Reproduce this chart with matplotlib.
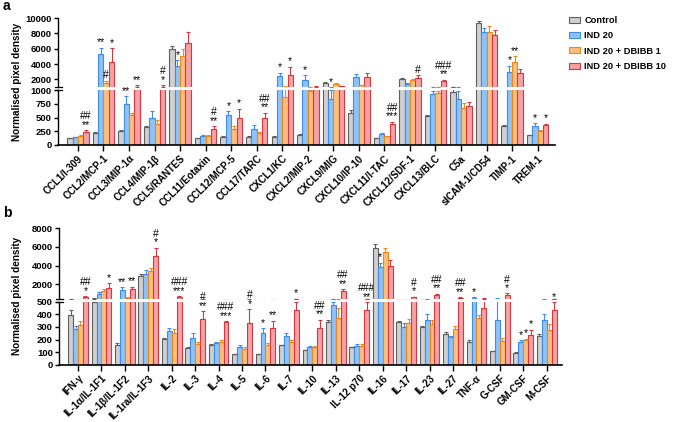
import matplotlib
matplotlib.use("Agg")
import matplotlib.pyplot as plt
import numpy as np
from matplotlib.patches import Patch

plt.rcParams['font.family'] = ['Liberation Sans', 'DejaVu Sans']
plt.rcParams['font.weight'] = 'bold'

series = ["Control", "IND 20", "IND 20 + DBIBB 1", "IND 20 + DBIBB 10"]
fills = ["#d0d0d0", "#8fc2f8", "#fcbf7e", "#f5a2a5"]
edges = ["#5f5f5f", "#3d8cee", "#ef861c", "#d7373f"]

# ---------- panel a ----------
cats_a = ["CCL1/I-309", "CCL2/MCP-1", "CCL3/MIP-1\u03b1", "CCL4/MIP-1\u03b2", "CCL5/RANTES",
          "CCL11/Eotaxin", "CCL12/MCP-5", "CCL17/TARC", "CXCL1/KC", "CXCL2/MIP-2",
          "CXCL9/MIG", "CXCL10/IP-10", "CXCL11/I-TAC", "CXCL12/SDF-1", "CXCL13/BLC",
          "C5a", "sICAM-1/CD54", "TIMP-1", "TREM-1"]
ctrl_a = [125, 225, 255, 330, 5900, 125, 150, 150, 145, 175, 1500, 580, 120, 2100, 530, 970, 9400, 350, 175]
ind_a = [140, 5350, 740, 490, 3700, 165, 540, 295, 2500, 1850, 840, 2300, 205, 1350, 925, 840, 8200, 3000, 350]
db1_a = [170, 1550, 545, 375, 5000, 170, 300, 210, 870, 975, 1350, 1250, 165, 1870, 940, 680, 8200, 4300, 255]
db10_a = [235, 4250, 1010, 1010, 6700, 295, 490, 490, 2550, 1050, 1100, 2300, 375, 2170, 1830, 710, 7800, 2800, 360]
ctrl_a_err = [8, 15, 10, 15, 500, 10, 10, 10, 10, 20, 100, 60, 5, 100, 15, 50, 200, 10, 10]
ind_a_err = [10, 800, 150, 120, 800, 10, 70, 70, 350, 700, 160, 400, 10, 200, 50, 150, 500, 800, 50]
db1_a_err = [15, 250, 30, 80, 900, 10, 50, 30, 230, 30, 200, 50, 5, 150, 50, 80, 800, 700, 20]
db10_a_err = [35, 1800, 250, 250, 1500, 50, 170, 100, 1100, 60, 60, 500, 50, 400, 100, 80, 600, 500, 30]
sig_a = [(0, 3, "##\n**"), (1, 1, "**"), (1, 2, "#"), (1, 3, "*"), (2, 1, "**"), (2, 3, "**"),
         (3, 3, "#\n*"), (4, 1, "*"), (5, 3, "#\n**"), (6, 1, "*"), (6, 3, "*"), (7, 3, "##\n**"),
         (8, 1, "*"), (8, 3, "*"), (9, 1, "*"), (10, 1, "*"), (12, 3, "##\n***"), (13, 3, "#"),
         (14, 3, "###\n**"), (17, 1, "*"), (17, 2, "**"), (18, 1, "*"), (18, 3, "*")]

# ---------- panel b ----------
cats_b = ["IFN-\u03b3", "IL-1\u03b1/IL-1F1", "IL-1\u03b2/IL-1F2", "IL-1ra/IL-1F3", "IL-2", "IL-3",
          "IL-4", "IL-5", "IL-6", "IL-7", "IL-10", "IL-13", "IL-12 p70", "IL-16", "IL-17",
          "IL-23", "IL-27", "TNF-\u03b1", "G-CSF", "GM-CSF", "M-CSF"]
ctrl_b = [390, 500, 160, 2900, 205, 130, 155, 85, 85, 155, 115, 340, 140, 5900, 335, 298, 248, 178, 108, 98, 230]
ind_b = [285, 1000, 1400, 3100, 265, 215, 170, 145, 250, 225, 140, 470, 152, 3900, 300, 355, 218, 560, 358, 184, 355]
db1_b = [315, 1300, 600, 3400, 255, 165, 180, 125, 155, 180, 140, 368, 152, 5500, 330, 325, 280, 370, 187, 197, 272]
db10_b = [680, 1600, 1550, 5000, 680, 365, 340, 330, 290, 430, 295, 1300, 435, 4000, 620, 900, 600, 450, 900, 238, 435]
ctrl_b_err = [40, 20, 10, 250, 10, 8, 10, 5, 5, 5, 5, 15, 5, 400, 15, 10, 15, 15, 5, 8, 15]
ind_b_err = [20, 200, 300, 400, 25, 40, 15, 10, 40, 30, 8, 30, 10, 400, 30, 50, 10, 60, 150, 10, 50]
db1_b_err = [30, 200, 50, 300, 25, 20, 20, 20, 20, 15, 10, 80, 15, 400, 30, 30, 30, 20, 25, 10, 50]
db10_b_err = [80, 500, 200, 900, 80, 60, 5, 110, 60, 70, 60, 200, 60, 600, 60, 100, 60, 60, 150, 40, 60]
sig_b = [(0, 3, "##\n*"), (1, 3, "*"), (2, 1, "**"), (2, 3, "**"), (3, 3, "#\n*"), (4, 3, "###\n***"),
         (5, 3, "#\n**"), (6, 3, "###\n***"), (7, 3, "#\n*"), (8, 1, "*"), (8, 3, "**"), (9, 3, "*"),
         (10, 3, "##\n**"), (11, 3, "##\n**"), (12, 3, "###\n**"), (13, 1, "*"), (14, 3, "#\n*"),
         (15, 3, "##\n**"), (16, 3, "##\n**"), (17, 1, "*"), (18, 3, "#\n*"), (19, 1, "*"),
         (19, 2, "*"), (19, 3, "*"), (20, 3, "*")]

W, H = 675, 422
fig = plt.figure(figsize=(W / 100, H / 100), dpi=100)


def fx(px):
    return px / W


def fy(py):
    return 1 - py / H


def panel(cats, vals, errs, sig, x0, x1, low_box, up_box, low_lim, up_lim, low_ticks, up_ticks,
          xlim, letter, letter_y, ylab_y):
    n = len(cats)
    x = np.arange(n)
    bw = 0.21
    offs = np.array([-1.5, -0.5, 0.5, 1.5]) * bw
    ax_lo = fig.add_axes([fx(x0), fy(low_box[1]), fx(x1 - x0), (low_box[1] - low_box[0]) / H])
    ax_up = fig.add_axes([fx(x0), fy(up_box[1]), fx(x1 - x0), (up_box[1] - up_box[0]) / H])
    for ax in (ax_lo, ax_up):
        ax.patch.set_visible(False)
        for s, (v, e) in enumerate(zip(vals, errs)):
            ax.bar(x + offs[s], v, bw, color=fills[s], edgecolor=edges[s], linewidth=0.8, zorder=2)
            ax.errorbar(x + offs[s], v, yerr=[np.zeros(n), e], fmt='none', ecolor=edges[s],
                        elinewidth=0.8, capsize=1.6, capthick=0.8, zorder=3)
        ax.set_xlim(*xlim)
        for sp in ("top", "right"):
            ax.spines[sp].set_visible(False)
        ax.spines["left"].set_linewidth(1.0)
        ax.tick_params(axis='y', labelsize=6.8, width=1.0, length=3, pad=1.5)
    ax_lo.set_ylim(*low_lim)
    ax_up.set_ylim(*up_lim)
    ax_lo.set_yticks(low_ticks)
    ax_up.set_yticks(up_ticks)
    ax_up.spines["bottom"].set_visible(False)
    ax_up.set_xticks([])
    ax_lo.spines["bottom"].set_linewidth(1.2)
    ax_lo.set_xticks(x)
    ax_lo.set_xticklabels(cats, rotation=45, ha='right', va='top', rotation_mode='anchor',
                          fontsize=7)
    ax_lo.tick_params(axis='x', length=4, width=1.0, pad=2)
    # significance marks
    for (g, s, txt) in sig:
        top = vals[s][g] + errs[s][g]
        ax = ax_lo if top < low_lim[1] else ax_up
        ax.annotate(txt, (x[g] + offs[s], top), xytext=(0, 0.3), textcoords='offset points',
                    ha='center', va='bottom', fontsize=7.5, fontweight='normal',
                    linespacing=0.8, clip_on=False, zorder=5)
    # break marks on the y axis ("=" across the spine)
    for yb in (up_box[1], low_box[0]):
        fig.add_artist(plt.Line2D([fx(x0 - 3.5), fx(x0 + 3.5)], [fy(yb), fy(yb)],
                                  color='black', lw=0.9))
    fig.text(fx(3), fy(letter_y), letter, fontsize=10, fontweight='bold', va='center')
    fig.text(fx(17), fy(ylab_y), "Normalised pixel density", rotation=90, fontsize=7.2,
             fontweight='bold', ha='center', va='center')


panel(cats_a, [ctrl_a, ind_a, db1_a, db10_a], [ctrl_a_err, ind_a_err, db1_a_err, db10_a_err], sig_a,
      58, 555, (90, 145), (18, 87), (0, 1000), (1000, 10000), [0, 250, 500, 750, 1000],
      [2000, 4000, 6000, 8000, 10000], (-0.78, 18.68), "a", 6, 82)

panel(cats_b, [ctrl_b, ind_b, db1_b, db10_b], [ctrl_b_err, ind_b_err, db1_b_err, db10_b_err], sig_b,
      59, 562, (301.5, 365), (228, 298.5), (0, 500), (500, 8000), [0, 100, 200, 300, 400, 500],
      [2000, 4000, 6000, 8000], (-0.81, 20.65), "b", 213, 296)

handles = [Patch(facecolor=f, edgecolor=e, linewidth=0.8) for f, e in zip(fills, edges)]
fig.legend(handles, series, loc='upper left', bbox_to_anchor=(fx(569), fy(16)), frameon=False,
           fontsize=6.7, handlelength=1.15, handleheight=0.6, labelspacing=0.68, handletextpad=0.5,
           borderaxespad=0, borderpad=0)

fig.savefig("out.png", dpi=100)
